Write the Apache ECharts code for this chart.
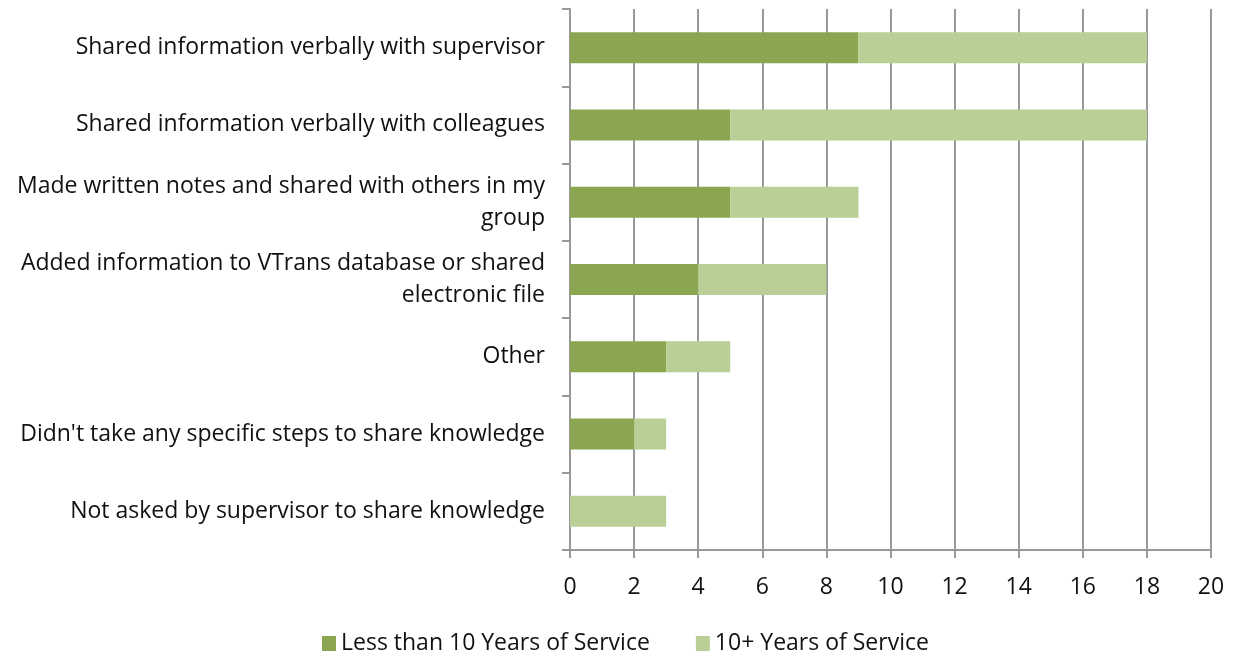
<!DOCTYPE html>
<html>
<head>
<meta charset="utf-8">
<script src="https://cdn.jsdelivr.net/npm/echarts@6/dist/echarts.min.js"></script>
<style>
  html, body { margin: 0; padding: 0; background: #fff; }
  #main { width: 1236px; height: 654px; }
</style>
</head>
<body>
<div id="main"></div>
<script>
const categories = [
  "Shared information verbally with supervisor",
  "Shared information verbally with colleagues",
  "Made written notes and shared with others in my\ngroup",
  "Added information to VTrans database or shared\nelectronic file",
  "Other",
  "Didn't take any specific steps to share knowledge",
  "Not asked by supervisor to share knowledge"
];
const lessThan10 = [9, 5, 5, 4, 3, 2, 0];
const tenPlus = [9, 13, 4, 4, 2, 1, 3];
const seriesNames = ["Less than 10 Years of Service", "10+ Years of Service"];

const font = "Open Sans";
const chart = echarts.init(document.getElementById("main"));
const option = {
  animation: false,
  textStyle: { fontFamily: font },
  grid: { left: 570, right: 25, top: 9, bottom: 104 },
  legend: {
    top: 627,
    left: 317,
    itemWidth: 14,
    itemHeight: 15,
    itemGap: 46,
    icon: "rect",
    textStyle: { fontSize: 23, color: "#111", fontFamily: font }
  },
  xAxis: {
    type: "value",
    min: 0,
    max: 20,
    interval: 2,
    axisLine: { show: true, lineStyle: { color: "#999", width: 2 } },
    axisTick: { show: true, length: 8, lineStyle: { color: "#999", width: 2 } },
    splitLine: { show: true, lineStyle: { color: "#999", width: 2 } },
    axisLabel: { fontSize: 23, color: "#111", margin: 26, fontFamily: font }
  },
  yAxis: {
    type: "category",
    inverse: true,
    data: categories,
    axisLine: { show: true, lineStyle: { color: "#999", width: 2 } },
    axisTick: { show: true, length: 8, lineStyle: { color: "#999", width: 2 } },
    axisLabel: {
      fontSize: 23, color: "#111", margin: 25, lineHeight: 32,
      align: "right", fontFamily: font
    }
  },
  series: [
    {
      name: seriesNames[0],
      type: "bar",
      stack: "total",
      data: lessThan10,
      barWidth: 31,
      itemStyle: { color: "#8BA650" }
    },
    {
      name: seriesNames[1],
      type: "bar",
      stack: "total",
      data: tenPlus,
      barWidth: 31,
      itemStyle: { color: "#B9CF96" }
    }
  ]
};
chart.setOption(option);
</script>
</body>
</html>
